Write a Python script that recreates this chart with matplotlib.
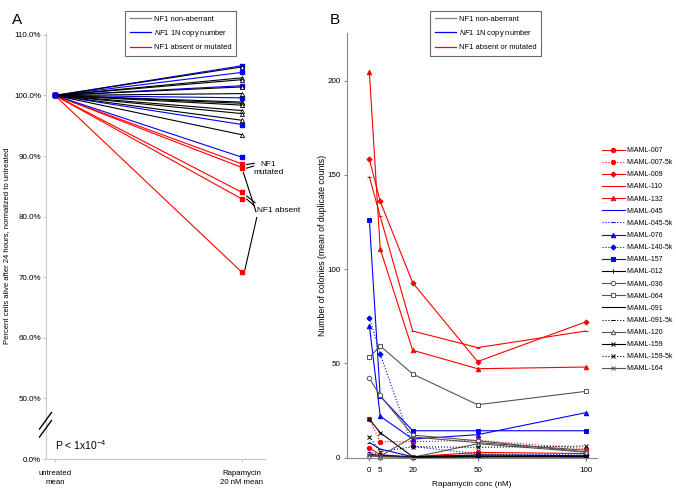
import matplotlib
matplotlib.use("Agg")
import matplotlib.pyplot as plt
from matplotlib.lines import Line2D

plt.rcParams['font.family'] = ['Liberation Sans', 'DejaVu Sans']
plt.rcParams['mathtext.fontset'] = 'custom'
plt.rcParams['mathtext.rm'] = 'Liberation Sans'
plt.rcParams['mathtext.it'] = 'Liberation Sans:italic'

# ---- panel A data (percent alive, normalized to untreated) ----
groups_a = ["untreated\nmean", "Rapamycin\n20 nM mean"]
untreated_pct = 100.0
nonaberrant_end = [104.7, 102.9, 102.6, 101.4, 100.3, 98.9, 98.7, 98.4, 97.5, 97.0, 95.9, 93.5]
copy1n_end = [104.9, 103.8, 101.6, 99.6, 95.2, 89.8]
absent_end = [88.7, 88.1, 84.0, 82.9, 70.8]
ytick_a = [40, 50, 60, 70, 80, 90, 100, 110]
ytick_a_labels = ["0.0%", "50.0%", "60.0%", "70.0%", "80.0%", "90.0%", "100.0%", "110.0%"]

# ---- panel B data (colonies, mean of duplicate counts) ----
conc = [0, 5, 20, 50, 100]
miaml_007 = [5.2, 1.5, 0.5, 2.8, 2.2]
miaml_007_5k = [20.4, 8.5, 8.5, 9.2, 4.8]
miaml_009 = [158.3, 136.0, 92.8, 51.0, 72.1]
miaml_110 = [149.0, 128.0, 67.2, 58.4, 67.2]
miaml_132 = [204.6, 110.7, 57.0, 47.2, 48.1]
miaml_045 = [8.0, 4.6, 0.5, 1.0, 0.5]
miaml_045_5k = [3.0, 1.5, 0.5, 0.5, 0.5]
miaml_076 = [70.0, 22.0, 9.9, 12.2, 23.9]
miaml_140_5k = [74.3, 55.0, 6.0, 2.0, 1.5]
miaml_157 = [126.0, 32.6, 14.3, 14.3, 14.3]
miaml_012 = [1.5, 1.0, 0.3, 0.5, 0.5]
miaml_036 = [42.1, 33.0, 12.0, 9.0, 3.0]
miaml_064 = [53.3, 59.3, 44.4, 28.1, 35.2]
miaml_091 = [2.0, 1.0, 0.3, 0.5, 0.5]
miaml_091_5k = [1.0, 0.5, 0.3, 0.5, 1.0]
miaml_120 = [1.0, 0.5, 0.2, 7.4, 3.0]
miaml_159 = [20.4, 13.3, 0.5, 1.5, 1.0]
miaml_159_5k = [11.1, 3.2, 5.8, 5.5, 6.2]
miaml_164 = [1.5, 0.8, 11.0, 8.0, 4.0]

RED = "#ff0000"
BLUE = "#0000ff"
BLACK = "#000000"
GREY = "#555555"
AXGREY = "#c8c8c8"

fig = plt.figure(figsize=(6.76, 4.95), dpi=100)
W, H = 676.0, 495.0

def fx(px):
    return px / W

def fy(py):
    return 1 - py / H

# ================= panel A =================
axA = fig.add_axes([fx(46), fy(459), fx(265) - fx(46), fy(33) - fy(459)])
xs = [0, 1]
for v in absent_end:
    axA.plot(xs, [untreated_pct, v], color=RED, lw=0.8, marker='s', ms=3, mec=RED, mfc=RED)
for v in copy1n_end:
    axA.plot(xs, [untreated_pct, v], color=BLUE, lw=0.8, marker='s', ms=3, mec=BLUE, mfc=BLUE)
for v in nonaberrant_end:
    axA.plot(xs, [untreated_pct, v], color=BLACK, lw=0.8, marker='^', ms=3, mec=BLACK,
             mfc='white', mew=0.6)
axA.plot([0], [untreated_pct], marker='s', ms=3.5, color=BLUE, ls='none', zorder=5)

axA.set_xlim(-0.048, 1.123)
axA.set_ylim(40, 110.3)
axA.set_xticks(xs)
axA.set_xticklabels(groups_a, fontsize=5.6, linespacing=1.3)
axA.set_yticks(ytick_a)
axA.set_yticklabels(ytick_a_labels, fontsize=5.8)
for s in ['top', 'right']:
    axA.spines[s].set_visible(False)
for s in ['left', 'bottom']:
    axA.spines[s].set_color(AXGREY)
    axA.spines[s].set_linewidth(0.8)
axA.tick_params(length=2, color=AXGREY)
axA.tick_params(axis='x', pad=6)
axA.tick_params(axis='y', pad=1.5)
axA.set_ylabel("Percent cells alive after 24 hours, normalized to untreated", fontsize=5.5)
axA.yaxis.set_label_coords(-0.162, 0.5)

# annotations for NF1 mutated / absent
kw = dict(color=BLACK, lw=0.8, clip_on=False)
axA.plot([1.025, 1.065], [absent_end[0] - 0.1, absent_end[0] + 0.1], **kw)
axA.plot([1.025, 1.062], [absent_end[1] - 0.1, absent_end[1] + 0.25], **kw)
axA.text(1.14, 88.0, "NF1\nmutated", fontsize=6, ha='center', va='center', linespacing=1.15,
         clip_on=False)
axA.plot([1.007, 1.075], [absent_end[1] - 0.8, 80.8], **kw)
axA.plot([1.025, 1.07], [absent_end[2] - 0.6, 82.3], **kw)
axA.plot([1.025, 1.066], [absent_end[3], 81.8], **kw)
axA.text(1.082, 81.0, "NF1 absent", fontsize=6, ha='left', va='center', clip_on=False)
axA.plot([1.079, 1.016], [79.85, absent_end[4] + 0.5], **kw)

axA.text(0.0, 42.3, r"P < 1x10$^{-4}$", fontsize=7.5, ha='left', va='center')

# axis break marks
for dy in [0, 8]:
    fig.add_artist(Line2D([fx(39.5), fx(51.5)], [fy(429 + dy), fy(412.5 + dy)], color=BLACK, lw=1.0))

leg_a = [Line2D([], [], color='#808080', lw=0.9),
         Line2D([], [], color=BLUE, lw=0.9),
         Line2D([], [], color=RED, lw=0.9)]
leg_labels = ["NF1 non-aberrant", r"$\it{NF1}$ 1N copy number", "NF1 absent or mutated"]
la = axA.legend(leg_a, leg_labels, loc='upper left', bbox_to_anchor=(fx(125), fy(11)),
                bbox_transform=fig.transFigure, fontsize=5.4, frameon=True, fancybox=False,
                edgecolor='#444444', handlelength=2.9, handletextpad=0.4, labelspacing=0.68,
                borderpad=0.6, borderaxespad=0)
la.get_frame().set_linewidth(0.8)

fig.text(fx(12), fy(20), "A", fontsize=11, ha='left', va='center')

# ================= panel B =================
axB = fig.add_axes([fx(347.3), fy(457.7), fx(596.7) - fx(347.3), fy(33) - fy(457.7)])

series = [
    ("MIAML-007", miaml_007, RED, '-', 'o', RED),
    ("MIAML-007-5k", miaml_007_5k, RED, ':', 'o', RED),
    ("MIAML-009", miaml_009, RED, '-', 'D', RED),
    ("MIAML-110", miaml_110, RED, '-', '_', RED),
    ("MIAML-132", miaml_132, RED, '-', '^', RED),
    ("MIAML-045", miaml_045, BLUE, '-', '_', BLUE),
    ("MIAML-045-5k", miaml_045_5k, BLUE, ':', '_', BLUE),
    ("MIAML-076", miaml_076, BLUE, '-', '^', BLUE),
    ("MIAML-140-5k", miaml_140_5k, BLUE, ':', 'D', BLUE),
    ("MIAML-157", miaml_157, BLUE, '-', 's', BLUE),
    ("MIAML-012", miaml_012, BLACK, '-', '+', BLACK),
    ("MIAML-036", miaml_036, GREY, '-', 'o', 'white'),
    ("MIAML-064", miaml_064, GREY, '-', 's', 'white'),
    ("MIAML-091", miaml_091, BLACK, '-', '_', BLACK),
    ("MIAML-091-5k", miaml_091_5k, BLACK, ':', '_', BLACK),
    ("MIAML-120", miaml_120, GREY, '-', '^', 'white'),
    ("MIAML-159", miaml_159, BLACK, '-', 'x', BLACK),
    ("MIAML-159-5k", miaml_159_5k, BLACK, ':', 'x', BLACK),
    ("MIAML-164", miaml_164, GREY, '-', 'x', GREY),
]

handles = []
for name, vals, col, ls, mk, mfc in series:
    ms = 3.2 if mk not in ('D',) else 2.6
    h, = axB.plot(conc, vals, color=col, ls=ls, lw=0.8, marker=mk, ms=ms, mec=col, mfc=mfc,
                  mew=0.7, label=name, clip_on=False)
    handles.append(h)

axB.set_xlim(-10.2, 105)
axB.set_ylim(0, 225.3)
axB.set_xticks(conc)
axB.set_yticks([0, 50, 100, 150, 200])
axB.tick_params(labelsize=5.8, length=2, color='#888888', pad=3)
axB.tick_params(axis='x', pad=5)
for s in ['top', 'right']:
    axB.spines[s].set_visible(False)
for s in ['left', 'bottom']:
    axB.spines[s].set_color('#888888')
    axB.spines[s].set_linewidth(0.8)
axB.set_xlabel("Rapamycin conc (nM)", fontsize=5.9, labelpad=4.5)
axB.set_ylabel("Number of colonies (mean of duplicate counts)", fontsize=6.3)
axB.yaxis.set_label_coords(-0.083, 0.5)

lb = axB.legend(leg_a, leg_labels, loc='upper left', bbox_to_anchor=(fx(430), fy(11)),
                bbox_transform=fig.transFigure, fontsize=5.4, frameon=True, fancybox=False,
                edgecolor='#444444', handlelength=2.9, handletextpad=0.4, labelspacing=0.68,
                borderpad=0.6, borderaxespad=0)
lb.get_frame().set_linewidth(0.8)
axB.add_artist(lb)

axB.legend(handles=handles, loc='upper left', bbox_to_anchor=(fx(601.5), fy(147)),
           bbox_transform=fig.transFigure, fontsize=5.0, frameon=False, handlelength=3.4,
           handletextpad=0.25, labelspacing=0.74, borderpad=0, borderaxespad=0)

fig.text(fx(330), fy(20), "B", fontsize=11, ha='left', va='center')

fig.savefig("out.png", dpi=100)
